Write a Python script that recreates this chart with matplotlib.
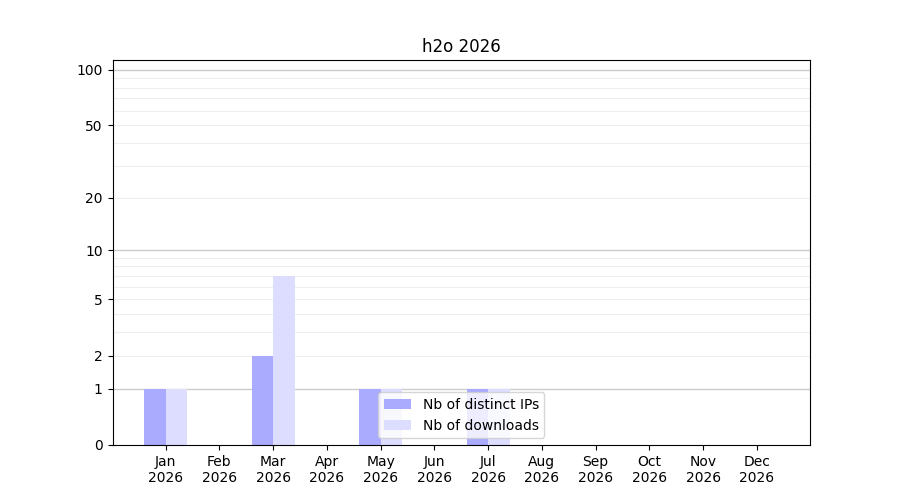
import numpy as np
import matplotlib
matplotlib.use('Agg')
import matplotlib.pyplot as plt
from matplotlib.ticker import FixedLocator, FixedFormatter

months = ['Jan', 'Feb', 'Mar', 'Apr', 'May', 'Jun',
          'Jul', 'Aug', 'Sep', 'Oct', 'Nov', 'Dec']
year = '2026'
ips = [1, 0, 2, 0, 1, 0, 1, 0, 0, 0, 0, 0]
downloads = [1, 0, 7, 0, 1, 0, 1, 0, 0, 0, 0, 0]
yticks = [0, 1, 2, 5, 10, 20, 50, 100]


def fwd(v):
    return np.log10(1 + np.clip(v, 0, None))


def inv(v):
    return 10 ** v - 1


fig = plt.figure(figsize=(9, 5), dpi=100)
ax = fig.add_subplot(111)

x = np.arange(len(months))
w = 0.4
ax.bar(x - w / 2, ips, width=w, color='#aaaaff', label='Nb of distinct IPs')
ax.bar(x + w / 2, downloads, width=w, color='#ddddff', label='Nb of downloads')

ax.set_yscale('function', functions=(fwd, inv))
ax.set_ylim(0, 113)
ax.yaxis.set_major_locator(FixedLocator(yticks))
ax.yaxis.set_major_formatter(FixedFormatter([str(t) for t in yticks]))

# grid lines: main decades darker, in-between values lighter
for v in [1, 10, 100]:
    ax.axhline(v, color='#cccccc', lw=1, zorder=0)
for v in list(range(2, 10)) + list(range(20, 100, 10)):
    ax.axhline(v, color='#eeeeee', lw=0.8, zorder=0)

ax.set_xticks(x)
ax.set_xticklabels([m + '\n' + year for m in months])
ax.set_title('h2o ' + year)
ax.legend(loc='lower center')

fig.savefig('out.png')
